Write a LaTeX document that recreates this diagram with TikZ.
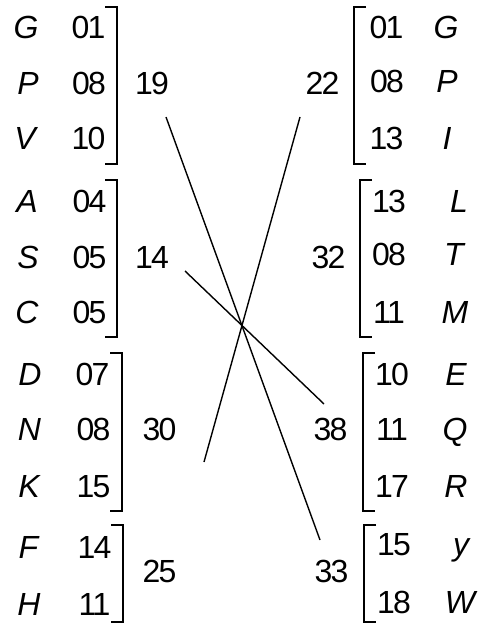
\documentclass[tikz,border=0pt]{standalone}
\usepackage{fontspec}
\setmainfont{Liberation Sans}
\newfontfamily\digfont[LetterSpace=-5]{Liberation Sans}
\begin{document}
\begin{tikzpicture}[x=1bp,y=-1bp,
  txt/.style={inner sep=0pt,anchor=base,font=\fontsize{32bp}{38bp}\selectfont},
  lett/.style={txt,font=\fontsize{32bp}{38bp}\selectfont\itshape},
  num/.style={txt,font=\fontsize{32bp}{38bp}\digfont},
  sumlab/.style={num},
  brk/.style={line width=1.4bp},
  conn/.style={line width=1.4bp}]
\useasboundingbox (0,0) rectangle (479,623);
% ---- left column ----
\node[lett] (lG) at (26,39) {G};  \node[num] (nG) at (88.5,39) {01};
\node[lett] (lP) at (28,95) {P};  \node[num] (nP) at (89,95) {08};
\node[lett] (lV) at (25,150) {V}; \node[num] (nV) at (88.5,150) {10};
\node[lett] (lA) at (27,212) {A}; \node[num] (nA) at (89.5,212) {04};
\node[lett] (lS) at (28,268) {S}; \node[num] (nS) at (89.5,268) {05};
\node[lett] (lC) at (27,323) {C}; \node[num] (nC) at (89.5,323) {05};
\node[lett] (lD) at (30,385) {D}; \node[num] (nD) at (92.5,385) {07};
\node[lett] (lN) at (29.5,440) {N}; \node[num] (nN) at (93.5,440) {08};
\node[lett] (lK) at (29,497) {K}; \node[num] (nK) at (93.5,497) {15};
\node[lett] (lF) at (28.5,558) {F}; \node[num] (nF) at (94.5,558) {14};
\node[lett] (lH) at (29,615) {H}; \node[num] (nH) at (94.5,615) {11};
% left brackets
\draw[brk] (105,7) -- (117,7) -- (117,164) -- (105,164);
\draw[brk] (105,180) -- (117,180) -- (117,337) -- (105,337);
\draw[brk] (110,353) -- (122,353) -- (122,511) -- (110,511);
\draw[brk] (111,525) -- (123,525) -- (123,622) -- (111,622);
% left sums
\node[sumlab] (s19) at (152,95) {19};
\node[sumlab] (s14) at (152,268) {14};
\node[sumlab] (s30) at (159.5,440) {30};
\node[sumlab] (s25) at (159.5,582) {25};
% ---- right column ----
\node[num] (mG) at (386.5,39) {01};  \node[lett] (rG) at (446,39) {G};
\node[num] (mP) at (387,93) {08};    \node[lett] (rP) at (447,93) {P};
\node[num] (mI) at (386.5,150) {13}; \node[lett] (rI) at (447,150) {I};
\node[num] (mL) at (389,212) {13};   \node[lett] (rL) at (459,212) {L};
\node[num] (mT) at (389,265) {08};   \node[lett] (rT) at (454,265) {T};
\node[num] (mM) at (389,323) {11};   \node[lett] (rM) at (455,323) {M};
\node[num] (mE) at (392,385) {10};   \node[lett] (rE) at (456,385) {E};
\node[num] (mQ) at (392,440) {11};   \node[lett] (rQ) at (455,440) {Q};
\node[num] (mR) at (392,497) {17};   \node[lett] (rR) at (456,497) {R};
\node[num] (my) at (394,555) {15};   \node[lett] (ry) at (461,555) {y};
\node[num] (mW) at (394,613) {18};   \node[lett] (rW) at (460,613) {W};
% right brackets
\draw[brk] (366,7) -- (354,7) -- (354,164) -- (366,164);
\draw[brk] (372,180) -- (360,180) -- (360,337) -- (372,337);
\draw[brk] (375,353) -- (363,353) -- (363,511) -- (375,511);
\draw[brk] (376,525) -- (364,525) -- (364,622) -- (376,622);
% right sums
\node[sumlab] (s22) at (322.5,95) {22};
\node[sumlab] (s32) at (328.5,268) {32};
\node[sumlab] (s38) at (330.5,440) {38};
\node[sumlab] (s33) at (331.5,582) {33};
% connector ends
\coordinate (e19) at (166,117);
\coordinate (e33) at (320,540);
\coordinate (e14) at (185,271);
\coordinate (e38) at (324,404);
\coordinate (e30) at (204,462);
\coordinate (e22) at (300,117);
\draw[conn] (e19) -- (e33);
\draw[conn] (e14) -- (e38);
\draw[conn] (e30) -- (e22);
\end{tikzpicture}
\end{document}
